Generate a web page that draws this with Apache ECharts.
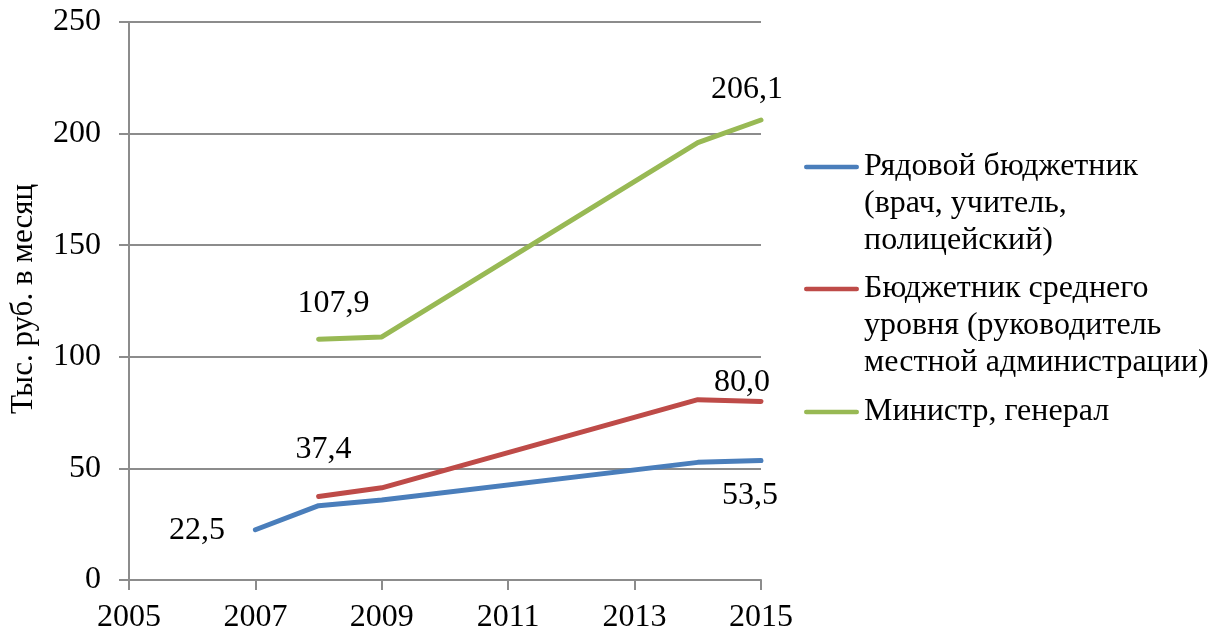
<!DOCTYPE html>
<html>
<head>
<meta charset="utf-8">
<script src="https://cdn.jsdelivr.net/npm/echarts@6/dist/echarts.min.js"></script>
<style>
  html, body { margin: 0; padding: 0; background: #fff; }
  #chart { width: 1216px; height: 637px; }
</style>
</head>
<body>
<div id="chart"></div>
<script>
// data
const years = [2007, 2008, 2009, 2014, 2015]
const ordinary = [22.5, 33.3, 35.8, 52.7, 53.5]
const middle = [null, 37.4, 41.3, 80.8, 80.0]
const minister = [null, 107.9, 108.9, 196.0, 206.1]

const seriesNames = ['Рядовой бюджетник', 'Бюджетник среднего уровня', 'Министр, генерал']
const legendLines = [
  ['Рядовой бюджетник', '(врач, учитель,', 'полицейский)'],
  ['Бюджетник среднего', 'уровня (руководитель', 'местной администрации)'],
  ['Министр, генерал']
]
const yAxisTitle = 'Тыс. руб. в месяц'

const FONT = "'Liberation Serif', 'Times New Roman', serif"
const FS = 32
const LH = 37
const colors = ['#4a7ebb', '#be4b48', '#98b954']

// which points carry a value label, and how it sits
const labelSpots = [
  { 0: { position: 'left', distance: 30, offset: [0, 1] }, 4: { position: 'bottom', offset: [-11, 14] } },
  { 1: { position: 'top', offset: [5, -25] }, 4: { position: 'top', offset: [-19, 3] } },
  { 1: { position: 'top', offset: [15, -14] }, 4: { position: 'top', offset: [-14, -9] } }
]

const fmt = v => v.toFixed(1).replace('.', ',')

const buildData = (vals, spots) =>
  years.map((y, i) => {
    const item = { value: [y, vals[i] == null ? '-' : vals[i]] }
    if (spots[i]) {
      item.label = Object.assign({ show: true, formatter: () => fmt(vals[i]) }, spots[i])
    }
    return item
  })

const makeSeries = (name, vals, idx) => ({
  name,
  type: 'line',
  data: buildData(vals, labelSpots[idx]),
  symbol: 'circle',
  symbolSize: 1,
  showSymbol: true,
  itemStyle: { color: colors[idx], opacity: 0 },
  lineStyle: { color: colors[idx], width: 5, cap: 'round', join: 'round' },
  label: { show: false, color: '#000', fontSize: FS, fontFamily: FONT, opacity: 1 },
  emphasis: { disabled: true },
  z: 3 - idx
})

// legend icon: a short rounded line sitting on the first text line of a taller box
const ICON_W = 55
const iconFor = nLines => {
  const h = nLines * LH
  const y = LH / 2 - 2.25
  return 'path://M0,0h0.01v0.01h-0.01z' +
    'M2.25,' + y + 'h' + (ICON_W - 4.5) + 'a2.25,2.25 0 0 1 0,4.5h-' + (ICON_W - 4.5) + 'a2.25,2.25 0 0 1 0,-4.5z' +
    'M0,' + (h - 0.01) + 'h0.01v0.01h-0.01z'
}

const firstLineCenters = [167, 289, 412]
const legends = seriesNames.map((name, i) => ({
  show: true,
  orient: 'vertical',
  left: 804,
  top: firstLineCenters[i] - LH / 2,
  padding: 0,
  itemWidth: ICON_W,
  itemHeight: legendLines[i].length * LH,
  itemGap: 0,
  selectedMode: false,
  data: [{ name, icon: iconFor(legendLines[i].length) }],
  formatter: () => legendLines[i].join('\n'),
  textStyle: { fontSize: FS, fontFamily: FONT, color: '#000', lineHeight: LH },
  itemStyle: { color: colors[i], opacity: 1, borderWidth: 0 }
}))

const chart = echarts.init(document.getElementById('chart'), null, { renderer: 'canvas' })
chart.setOption({
  animation: false,
  textStyle: { fontFamily: FONT },
  grid: { left: 128, right: 455, top: 22, bottom: 57, containLabel: false },
  legend: legends,
  xAxis: {
    type: 'value',
    min: 2005,
    max: 2015,
    interval: 2,
    axisLine: { show: true, lineStyle: { color: '#8c8c8c', width: 2 } },
    axisTick: { show: true, length: 10, lineStyle: { color: '#8c8c8c', width: 2 } },
    axisLabel: { color: '#000', fontSize: FS, fontFamily: FONT, margin: 22, formatter: v => String(v) },
    splitLine: { show: false }
  },
  yAxis: {
    type: 'value',
    min: 0,
    max: 250,
    interval: 50,
    name: yAxisTitle,
    nameLocation: 'middle',
    nameGap: 90,
    nameRotate: 90,
    nameTextStyle: { color: '#000', fontSize: 31, fontFamily: FONT, padding: [0, 0, 0, 4] },
    axisLine: { show: true, lineStyle: { color: '#8c8c8c', width: 2 } },
    axisTick: { show: true, length: 10, lineStyle: { color: '#8c8c8c', width: 2 } },
    axisLabel: { color: '#000', fontSize: FS, fontFamily: FONT, margin: 28 },
    splitLine: { show: true, lineStyle: { color: '#8c8c8c', width: 2 } }
  },
  series: [
    makeSeries(seriesNames[0], ordinary, 0),
    makeSeries(seriesNames[1], middle, 1),
    makeSeries(seriesNames[2], minister, 2)
  ]
})
</script>
</body>
</html>
